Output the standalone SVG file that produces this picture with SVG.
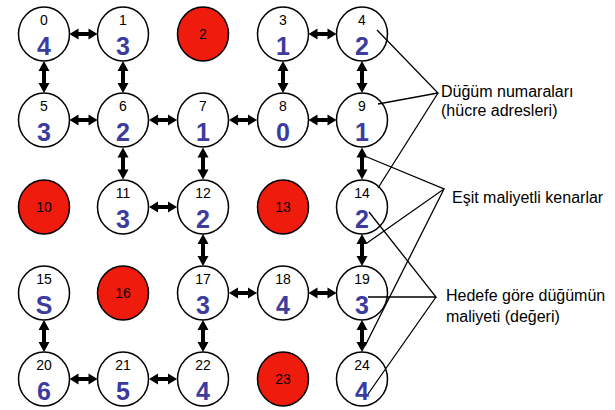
<svg xmlns="http://www.w3.org/2000/svg" xmlns:xlink="http://www.w3.org/1999/xlink" width="615" height="410" viewBox="0 0 615 410">
<style>
  .cell { fill: #ffffff; stroke: #000000; stroke-width: 1.5; }
  .wall { fill: #ef1b0c; stroke: #000000; stroke-width: 1.5; }
  .num { font-family: "Liberation Sans", Arial, sans-serif; font-size: 14px; fill: #000000; text-anchor: middle; }
  .val { font-family: "Liberation Sans", Arial, sans-serif; font-size: 25px; font-weight: bold; fill: #3c3ca0; text-anchor: middle; }
  .note { font-family: "Liberation Sans", Arial, sans-serif; font-size: 16px; fill: #000000; }
  .lead { stroke: #000000; stroke-width: 1.3; fill: none; }
  .arr { fill: #000000; }
</style>
<defs>
  <!-- double-headed connectors, centred on the origin -->
  <path id="ah" class="arr" d="M-14,0 L-5,-5.5 L-5,-2 L5,-2 L5,-5.5 L14,0 L5,5.5 L5,2 L-5,2 L-5,5.5 Z"/>
  <path id="av" class="arr" d="M0,-16 L-5.5,-6 L-2,-6 L-2,6 L-5.5,6 L0,16 L5.5,6 L2,6 L2,-6 L5.5,-6 Z"/>
</defs>

<!-- connectors between neighbouring cells -->
<g id="connectors">
  <!-- horizontal -->
  <use xlink:href="#ah" x="83.5" y="34"/>
  <use xlink:href="#ah" x="322.5" y="34"/>
  <use xlink:href="#ah" x="83.5" y="120"/>
  <use xlink:href="#ah" x="163" y="120"/>
  <use xlink:href="#ah" x="243" y="120"/>
  <use xlink:href="#ah" x="322.5" y="120"/>
  <use xlink:href="#ah" x="163" y="207"/>
  <use xlink:href="#ah" x="243" y="293"/>
  <use xlink:href="#ah" x="322.5" y="293"/>
  <use xlink:href="#ah" x="83.5" y="379"/>
  <use xlink:href="#ah" x="163" y="379"/>
  <!-- vertical -->
  <use xlink:href="#av" x="44" y="77"/>
  <use xlink:href="#av" x="123" y="77"/>
  <use xlink:href="#av" x="283" y="77"/>
  <use xlink:href="#av" x="362" y="77"/>
  <use xlink:href="#av" x="123" y="163.5"/>
  <use xlink:href="#av" x="203" y="163.5"/>
  <use xlink:href="#av" x="362" y="163.5"/>
  <use xlink:href="#av" x="203" y="250"/>
  <use xlink:href="#av" x="362" y="250"/>
  <use xlink:href="#av" x="44" y="336"/>
  <use xlink:href="#av" x="203" y="336"/>
  <use xlink:href="#av" x="362" y="336"/>
</g>

<!-- row 0 -->
<g id="n0"><ellipse class="cell" cx="44" cy="34" rx="25.5" ry="27"/><text class="num" x="44" y="25">0</text><text class="val" x="44" y="55">4</text></g>
<g id="n1"><ellipse class="cell" cx="123" cy="34" rx="25.5" ry="27"/><text class="num" x="123" y="25">1</text><text class="val" x="123" y="55">3</text></g>
<g id="n2"><ellipse class="wall" cx="203" cy="34" rx="25.5" ry="27"/><text class="num" x="203" y="39">2</text></g>
<g id="n3"><ellipse class="cell" cx="283" cy="34" rx="25.5" ry="27"/><text class="num" x="283" y="25">3</text><text class="val" x="283" y="55">1</text></g>
<g id="n4"><ellipse class="cell" cx="362" cy="34" rx="25.5" ry="27"/><text class="num" x="362" y="25">4</text><text class="val" x="362" y="55">2</text></g>

<!-- row 1 -->
<g id="n5"><ellipse class="cell" cx="44" cy="120" rx="25.5" ry="27"/><text class="num" x="44" y="111">5</text><text class="val" x="44" y="141">3</text></g>
<g id="n6"><ellipse class="cell" cx="123" cy="120" rx="25.5" ry="27"/><text class="num" x="123" y="111">6</text><text class="val" x="123" y="141">2</text></g>
<g id="n7"><ellipse class="cell" cx="203" cy="120" rx="25.5" ry="27"/><text class="num" x="203" y="111">7</text><text class="val" x="203" y="141">1</text></g>
<g id="n8"><ellipse class="cell" cx="283" cy="120" rx="25.5" ry="27"/><text class="num" x="283" y="111">8</text><text class="val" x="283" y="141">0</text></g>
<g id="n9"><ellipse class="cell" cx="362" cy="120" rx="25.5" ry="27"/><text class="num" x="362" y="111">9</text><text class="val" x="362" y="141">1</text></g>

<!-- row 2 -->
<g id="n10"><ellipse class="wall" cx="44" cy="207" rx="25.5" ry="27"/><text class="num" x="44" y="212">10</text></g>
<g id="n11"><ellipse class="cell" cx="123" cy="207" rx="25.5" ry="27"/><text class="num" x="123" y="198">11</text><text class="val" x="123" y="228">3</text></g>
<g id="n12"><ellipse class="cell" cx="203" cy="207" rx="25.5" ry="27"/><text class="num" x="203" y="198">12</text><text class="val" x="203" y="228">2</text></g>
<g id="n13"><ellipse class="wall" cx="283" cy="207" rx="25.5" ry="27"/><text class="num" x="283" y="212">13</text></g>
<g id="n14"><ellipse class="cell" cx="362" cy="207" rx="25.5" ry="27"/><text class="num" x="362" y="198">14</text><text class="val" x="362" y="228">2</text></g>

<!-- row 3 -->
<g id="n15"><ellipse class="cell" cx="44" cy="293" rx="25.5" ry="27"/><text class="num" x="44" y="284">15</text><text class="val" x="44" y="314">S</text></g>
<g id="n16"><ellipse class="wall" cx="123" cy="293" rx="25.5" ry="27"/><text class="num" x="123" y="298">16</text></g>
<g id="n17"><ellipse class="cell" cx="203" cy="293" rx="25.5" ry="27"/><text class="num" x="203" y="284">17</text><text class="val" x="203" y="314">3</text></g>
<g id="n18"><ellipse class="cell" cx="283" cy="293" rx="25.5" ry="27"/><text class="num" x="283" y="284">18</text><text class="val" x="283" y="314">4</text></g>
<g id="n19"><ellipse class="cell" cx="362" cy="293" rx="25.5" ry="27"/><text class="num" x="362" y="284">19</text><text class="val" x="362" y="314">3</text></g>

<!-- row 4 -->
<g id="n20"><ellipse class="cell" cx="44" cy="379" rx="25.5" ry="27"/><text class="num" x="44" y="370">20</text><text class="val" x="44" y="400">6</text></g>
<g id="n21"><ellipse class="cell" cx="123" cy="379" rx="25.5" ry="27"/><text class="num" x="123" y="370">21</text><text class="val" x="123" y="400">5</text></g>
<g id="n22"><ellipse class="cell" cx="203" cy="379" rx="25.5" ry="27"/><text class="num" x="203" y="370">22</text><text class="val" x="203" y="400">4</text></g>
<g id="n23"><ellipse class="wall" cx="283" cy="379" rx="25.5" ry="27"/><text class="num" x="283" y="384">23</text></g>
<g id="n24"><ellipse class="cell" cx="362" cy="379" rx="25.5" ry="27"/><text class="num" x="362" y="370">24</text><text class="val" x="362" y="400">4</text></g>

<!-- legend callouts -->
<g id="note-numbers">
  <path class="lead" d="M377,30 L438,93 L378,104 M438,93 L378,188"/>
  <text class="note" x="441" y="97">Düğüm numaraları</text>
  <text class="note" x="441" y="116">(hücre adresleri)</text>
</g>
<g id="note-edges">
  <path class="lead" d="M367,157 L444,189 L367,243 M444,189 L365,346"/>
  <text class="note" x="452" y="203">Eşit maliyetli kenarlar</text>
</g>
<g id="note-costs">
  <path class="lead" d="M369,212 L436,297 L368,297 M436,297 L368,394"/>
  <text class="note" x="446" y="301">Hedefe göre düğümün</text>
  <text class="note" x="446" y="322">maliyeti (değeri)</text>
</g>
</svg>
